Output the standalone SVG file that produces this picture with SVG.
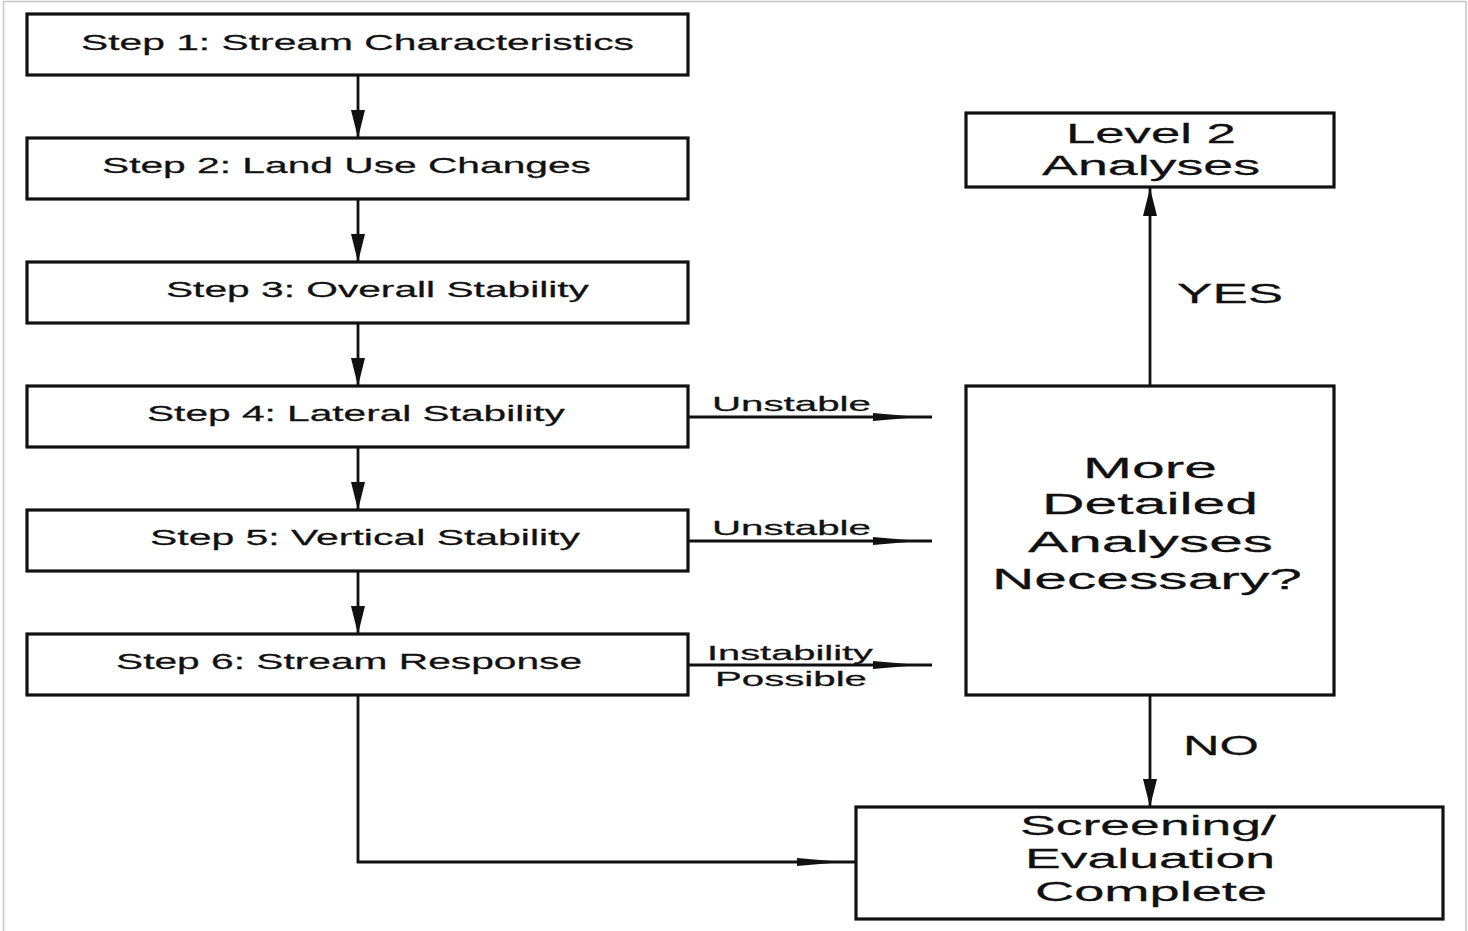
<svg xmlns="http://www.w3.org/2000/svg" width="1468" height="931" viewBox="0 0 1468 931">
<style>
.box{fill:#fff;stroke:#111;stroke-width:3.2}
.ln{fill:none;stroke:#111;stroke-width:2.8}
.t{font-family:"Liberation Sans",Arial,sans-serif;fill:#111;stroke:#111;stroke-width:0.25}
.s{font-size:22px}
.m{font-size:20px}
.l{font-size:28px}
.x{font-size:30px}
.frame{fill:none;stroke:#c8c8c8;stroke-width:1.5}
</style>
<defs>
<marker id="av" markerUnits="userSpaceOnUse" markerWidth="28" markerHeight="14" refX="28" refY="7" orient="auto" overflow="visible">
<path d="M0,0 L28,7 L0,14 z" fill="#111"/>
</marker>
<marker id="ah" markerUnits="userSpaceOnUse" markerWidth="60" markerHeight="8" refX="59" refY="4" orient="auto" overflow="visible">
<path d="M0,0 L46,4 L0,8 z" fill="#111"/>
</marker>
</defs>
<rect width="1468" height="931" fill="#fff"/>
<path class="frame" d="M3.5,931 V1.5 H1466 V931"/>

<g id="connectors">
<line class="ln" x1="358" y1="75" x2="358" y2="138" marker-end="url(#av)"/>
<line class="ln" x1="358" y1="199" x2="358" y2="262" marker-end="url(#av)"/>
<line class="ln" x1="358" y1="323" x2="358" y2="386" marker-end="url(#av)"/>
<line class="ln" x1="358" y1="447" x2="358" y2="510" marker-end="url(#av)"/>
<line class="ln" x1="358" y1="571" x2="358" y2="634" marker-end="url(#av)"/>
<polyline class="ln" points="358,695 358,862 856,862" marker-end="url(#ah)"/>
<line class="ln" x1="688" y1="417" x2="932" y2="417" marker-end="url(#ah)"/>
<line class="ln" x1="688" y1="541" x2="932" y2="541" marker-end="url(#ah)"/>
<line class="ln" x1="688" y1="665" x2="932" y2="665" marker-end="url(#ah)"/>
<line class="ln" x1="1150" y1="386" x2="1150" y2="188" marker-end="url(#av)"/>
<line class="ln" x1="1150" y1="695" x2="1150" y2="807" marker-end="url(#av)"/>
<g transform="scale(1.35 1)">
<text class="t m" x="527.4" y="411" textLength="117.8" lengthAdjust="spacingAndGlyphs">Unstable</text>
<text class="t m" x="527.4" y="535" textLength="117.8" lengthAdjust="spacingAndGlyphs">Unstable</text>
<text class="t m" x="523.7" y="660" textLength="123" lengthAdjust="spacingAndGlyphs">Instability</text>
<text class="t m" x="529.6" y="686" textLength="112.6" lengthAdjust="spacingAndGlyphs">Possible</text>
<text class="t l" x="871.9" y="303" textLength="78.5" lengthAdjust="spacingAndGlyphs">YES</text>
<text class="t l" x="876.3" y="755" textLength="56.3" lengthAdjust="spacingAndGlyphs">NO</text>
</g>
</g>

<g id="step1">
<rect class="box" x="27" y="14" width="661" height="61"/>
<text class="t s" transform="scale(1.35 1)" x="60" y="50" textLength="409.6" lengthAdjust="spacingAndGlyphs">Step 1: Stream Characteristics</text>
</g>
<g id="step2">
<rect class="box" x="27" y="138" width="661" height="61"/>
<text class="t s" transform="scale(1.35 1)" x="75.56" y="173" textLength="362.2" lengthAdjust="spacingAndGlyphs">Step 2: Land Use Changes</text>
</g>
<g id="step3">
<rect class="box" x="27" y="262" width="661" height="61"/>
<text class="t s" transform="scale(1.35 1)" x="122.96" y="297" textLength="313.3" lengthAdjust="spacingAndGlyphs">Step 3: Overall Stability</text>
</g>
<g id="step4">
<rect class="box" x="27" y="386" width="661" height="61"/>
<text class="t s" transform="scale(1.35 1)" x="108.89" y="421" textLength="309.6" lengthAdjust="spacingAndGlyphs">Step 4: Lateral Stability</text>
</g>
<g id="step5">
<rect class="box" x="27" y="510" width="661" height="61"/>
<text class="t s" transform="scale(1.35 1)" x="111.11" y="545" textLength="318.5" lengthAdjust="spacingAndGlyphs">Step 5: Vertical Stability</text>
</g>
<g id="step6">
<rect class="box" x="27" y="634" width="661" height="61"/>
<text class="t s" transform="scale(1.35 1)" x="85.93" y="669" textLength="345.2" lengthAdjust="spacingAndGlyphs">Step 6: Stream Response</text>
</g>
<g id="level2">
<rect class="box" x="966" y="113" width="368" height="74"/>
<text class="t l" transform="scale(1.35 1)" x="789.6" y="143" textLength="125.9" lengthAdjust="spacingAndGlyphs">Level 2</text>
<text class="t l" transform="scale(1.35 1)" x="771.9" y="175" textLength="161.5" lengthAdjust="spacingAndGlyphs">Analyses</text>
</g>
<g id="decision">
<rect class="box" x="966" y="386" width="368" height="309"/>
<text class="t x" transform="scale(1.35 1)" x="802.2" y="478" textLength="99.3" lengthAdjust="spacingAndGlyphs">More</text>
<text class="t x" transform="scale(1.35 1)" x="771.9" y="514" textLength="160" lengthAdjust="spacingAndGlyphs">Detailed</text>
<text class="t x" transform="scale(1.35 1)" x="761.5" y="552" textLength="181.5" lengthAdjust="spacingAndGlyphs">Analyses</text>
<text class="t x" transform="scale(1.35 1)" x="734.8" y="589" textLength="229.6" lengthAdjust="spacingAndGlyphs">Necessary?</text>
</g>
<g id="complete">
<rect class="box" x="856" y="807" width="587" height="112"/>
<text class="t l" transform="scale(1.35 1)" x="755.6" y="835" textLength="189.6" lengthAdjust="spacingAndGlyphs">Screening/</text>
<text class="t l" transform="scale(1.35 1)" x="759.3" y="868" textLength="185.2" lengthAdjust="spacingAndGlyphs">Evaluation</text>
<text class="t l" transform="scale(1.35 1)" x="766.7" y="901" textLength="171.9" lengthAdjust="spacingAndGlyphs">Complete</text>
</g>
</svg>
